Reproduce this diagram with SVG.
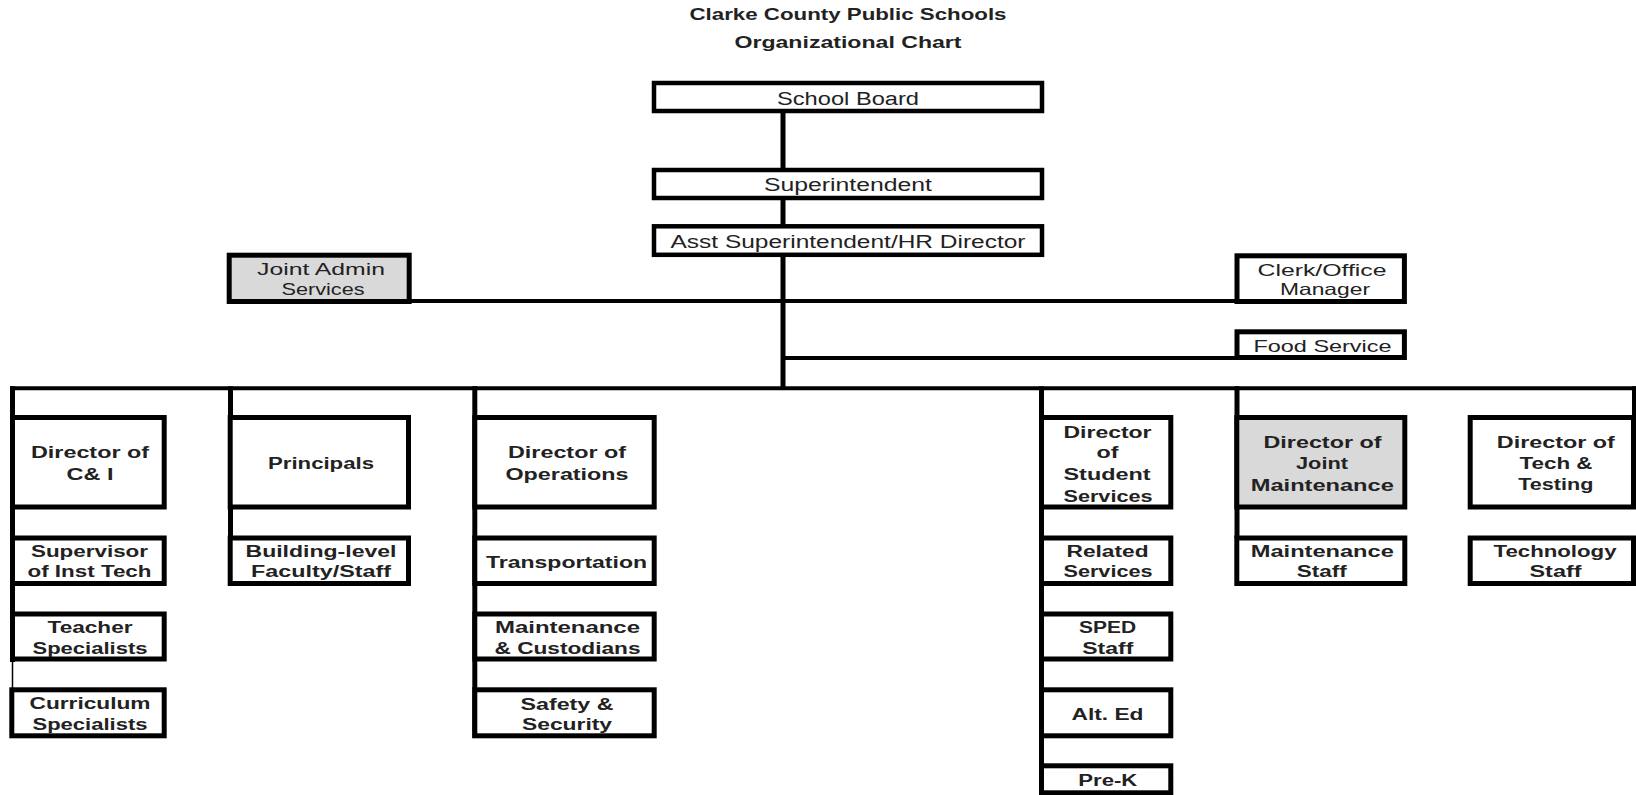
<svg xmlns="http://www.w3.org/2000/svg" width="1636" height="795" viewBox="0 0 1636 795">
<style>
.box{fill:#fff;stroke:#000;stroke-width:5}
.top{stroke-width:4.5}
.gray{fill:#d9d9d9}
text{font-family:"Liberation Sans",Arial,sans-serif;fill:#222;text-anchor:middle}
.b{font-weight:bold;font-size:16px}
.r{font-size:18px}
.s{font-size:16.5px}
.ti{font-weight:bold;font-size:17px}
.conn line{stroke:#000;stroke-width:5}
.conn .h{stroke-width:4}
.conn .thin{stroke-width:1.5}
</style>
<rect width="1636" height="795" fill="#fff"/>
<g id="title">
<text class="ti" x="848" y="20" textLength="317" lengthAdjust="spacingAndGlyphs">Clarke County Public Schools</text>
<text class="ti" x="848" y="48" textLength="227" lengthAdjust="spacingAndGlyphs">Organizational Chart</text>
</g>
<g class="conn" id="connectors">
<line x1="783" y1="111" x2="783" y2="390"/>
<line class="h" x1="409" y1="301" x2="1238" y2="301"/>
<line class="h" x1="783" y1="358" x2="1238" y2="358"/>
<line class="h" x1="10" y1="388.3" x2="1636" y2="388.3"/>
<line x1="12.5" y1="386.3" x2="12.5" y2="662"/>
<line class="thin" x1="12.5" y1="660" x2="12.5" y2="690"/>
<line x1="230.5" y1="386.3" x2="230.5" y2="538"/>
<line x1="474.8" y1="386.3" x2="474.8" y2="738"/>
<line x1="1041.5" y1="386.3" x2="1041.5" y2="795"/>
<line x1="1237" y1="386.3" x2="1237" y2="538"/>
<line class="h" x1="1634" y1="386.3" x2="1634" y2="418"/>
</g>
<g id="school-board"><rect class="box top" x="654" y="83" width="388" height="28"/><text class="r" x="848" y="105" textLength="142" lengthAdjust="spacingAndGlyphs">School Board</text></g>
<g id="superintendent"><rect class="box top" x="654" y="170" width="388" height="28"/><text class="r" x="848" y="191" textLength="168" lengthAdjust="spacingAndGlyphs">Superintendent</text></g>
<g id="asst-superintendent"><rect class="box top" x="654" y="226.3" width="388" height="28.5"/><text class="r" x="848" y="247.5" textLength="355" lengthAdjust="spacingAndGlyphs">Asst Superintendent/HR Director</text></g>
<g id="joint-admin"><rect class="box gray" x="229.2" y="255.2" width="180" height="46.3"/><text class="s" x="321" y="275" textLength="128" lengthAdjust="spacingAndGlyphs">Joint Admin</text><text class="s" x="323" y="295" textLength="83" lengthAdjust="spacingAndGlyphs">Services</text></g>
<g id="clerk"><rect class="box" x="1237" y="255.8" width="167.4" height="45.7"/><text class="s" x="1322" y="276" textLength="129" lengthAdjust="spacingAndGlyphs">Clerk/Office</text><text class="s" x="1325" y="295" textLength="90" lengthAdjust="spacingAndGlyphs">Manager</text></g>
<g id="food-service"><rect class="box" x="1237" y="331.8" width="167.4" height="25.7"/><text class="s" x="1322.5" y="351.5" textLength="138" lengthAdjust="spacingAndGlyphs">Food Service</text></g>

<g id="dir-ci"><rect class="box" x="12.5" y="417.5" width="151.7" height="89.5"/><text class="b" x="90" y="458.3" textLength="118" lengthAdjust="spacingAndGlyphs">Director of</text><text class="b" x="90" y="480" textLength="47" lengthAdjust="spacingAndGlyphs">C&amp; I</text></g>
<g id="supervisor-inst-tech"><rect class="box" x="12.5" y="538" width="151.7" height="45.5"/><text class="b" x="89.5" y="556.7" textLength="117" lengthAdjust="spacingAndGlyphs">Supervisor</text><text class="b" x="89.5" y="577.3" textLength="124" lengthAdjust="spacingAndGlyphs">of Inst Tech</text></g>
<g id="teacher-specialists"><rect class="box" x="12.5" y="614" width="151.7" height="45"/><text class="b" x="90" y="633.3" textLength="85" lengthAdjust="spacingAndGlyphs">Teacher</text><text class="b" x="90" y="653.5" textLength="115" lengthAdjust="spacingAndGlyphs">Specialists</text></g>
<g id="curriculum-specialists"><rect class="box" x="11.8" y="689.8" width="152.4" height="46"/><text class="b" x="90" y="709.3" textLength="121" lengthAdjust="spacingAndGlyphs">Curriculum</text><text class="b" x="90" y="729.8" textLength="115" lengthAdjust="spacingAndGlyphs">Specialists</text></g>

<g id="principals"><rect class="box" x="230.2" y="417.5" width="178.3" height="89.5"/><text class="b" x="321" y="469.3" textLength="106" lengthAdjust="spacingAndGlyphs">Principals</text></g>
<g id="building-level"><rect class="box" x="230.2" y="538" width="178.3" height="45.5"/><text class="b" x="321" y="556.7" textLength="151" lengthAdjust="spacingAndGlyphs">Building-level</text><text class="b" x="321" y="577.3" textLength="140" lengthAdjust="spacingAndGlyphs">Faculty/Staff</text></g>

<g id="dir-operations"><rect class="box" x="474.8" y="417.5" width="179.4" height="89.5"/><text class="b" x="567" y="458.3" textLength="118" lengthAdjust="spacingAndGlyphs">Director of</text><text class="b" x="567" y="480" textLength="123" lengthAdjust="spacingAndGlyphs">Operations</text></g>
<g id="transportation"><rect class="box" x="474.8" y="538" width="179.4" height="45.5"/><text class="b" x="566.5" y="568.3" textLength="161" lengthAdjust="spacingAndGlyphs">Transportation</text></g>
<g id="maintenance-custodians"><rect class="box" x="474.8" y="614" width="179.4" height="45"/><text class="b" x="567.5" y="633.3" textLength="145" lengthAdjust="spacingAndGlyphs">Maintenance</text><text class="b" x="567.5" y="653.5" textLength="146" lengthAdjust="spacingAndGlyphs">&amp; Custodians</text></g>
<g id="safety-security"><rect class="box" x="474.8" y="689.8" width="179.4" height="46"/><text class="b" x="567" y="710" textLength="93" lengthAdjust="spacingAndGlyphs">Safety &amp;</text><text class="b" x="567" y="729.5" textLength="90" lengthAdjust="spacingAndGlyphs">Security</text></g>

<g id="dir-student-services"><rect class="box" x="1041.5" y="417.5" width="129.3" height="89.5"/><text class="b" x="1107.5" y="438.3" textLength="88" lengthAdjust="spacingAndGlyphs">Director</text><text class="b" x="1107.5" y="458.3" textLength="22" lengthAdjust="spacingAndGlyphs">of</text><text class="b" x="1107" y="480" textLength="87" lengthAdjust="spacingAndGlyphs">Student</text><text class="b" x="1108" y="501.5" textLength="89" lengthAdjust="spacingAndGlyphs">Services</text></g>
<g id="related-services"><rect class="box" x="1041.5" y="538" width="129.3" height="45.5"/><text class="b" x="1107.5" y="556.7" textLength="82" lengthAdjust="spacingAndGlyphs">Related</text><text class="b" x="1108" y="577.3" textLength="89" lengthAdjust="spacingAndGlyphs">Services</text></g>
<g id="sped-staff"><rect class="box" x="1041.5" y="614" width="129.3" height="45"/><text class="b" x="1107.5" y="633.3" textLength="57" lengthAdjust="spacingAndGlyphs">SPED</text><text class="b" x="1107.8" y="654" textLength="51" lengthAdjust="spacingAndGlyphs">Staff</text></g>
<g id="alt-ed"><rect class="box" x="1041.5" y="689.8" width="129.3" height="46"/><text class="b" x="1107.5" y="719.5" textLength="72" lengthAdjust="spacingAndGlyphs">Alt. Ed</text></g>
<g id="pre-k"><rect class="box" x="1041.5" y="765.8" width="129.3" height="27"/><text class="b" x="1107.8" y="786" textLength="59" lengthAdjust="spacingAndGlyphs">Pre-K</text></g>

<g id="dir-joint-maintenance"><rect class="box gray" x="1236.8" y="417.5" width="168" height="89.5"/><text class="b" x="1322.5" y="448.3" textLength="118" lengthAdjust="spacingAndGlyphs">Director of</text><text class="b" x="1322" y="469.3" textLength="52" lengthAdjust="spacingAndGlyphs">Joint</text><text class="b" x="1322.3" y="490.7" textLength="143" lengthAdjust="spacingAndGlyphs">Maintenance</text></g>
<g id="maintenance-staff"><rect class="box" x="1236.8" y="538" width="168" height="45.5"/><text class="b" x="1322.3" y="556.7" textLength="143" lengthAdjust="spacingAndGlyphs">Maintenance</text><text class="b" x="1321.7" y="577.3" textLength="50" lengthAdjust="spacingAndGlyphs">Staff</text></g>

<g id="dir-tech-testing"><rect class="box" x="1470.2" y="417.5" width="163.3" height="89.5"/><text class="b" x="1555.8" y="448.3" textLength="118" lengthAdjust="spacingAndGlyphs">Director of</text><text class="b" x="1556" y="469.3" textLength="73" lengthAdjust="spacingAndGlyphs">Tech &amp;</text><text class="b" x="1555.8" y="490" textLength="75" lengthAdjust="spacingAndGlyphs">Testing</text></g>
<g id="technology-staff"><rect class="box" x="1470.2" y="538" width="163.3" height="45.5"/><text class="b" x="1555" y="556.7" textLength="123" lengthAdjust="spacingAndGlyphs">Technology</text><text class="b" x="1555.5" y="577.3" textLength="52" lengthAdjust="spacingAndGlyphs">Staff</text></g>
</svg>
